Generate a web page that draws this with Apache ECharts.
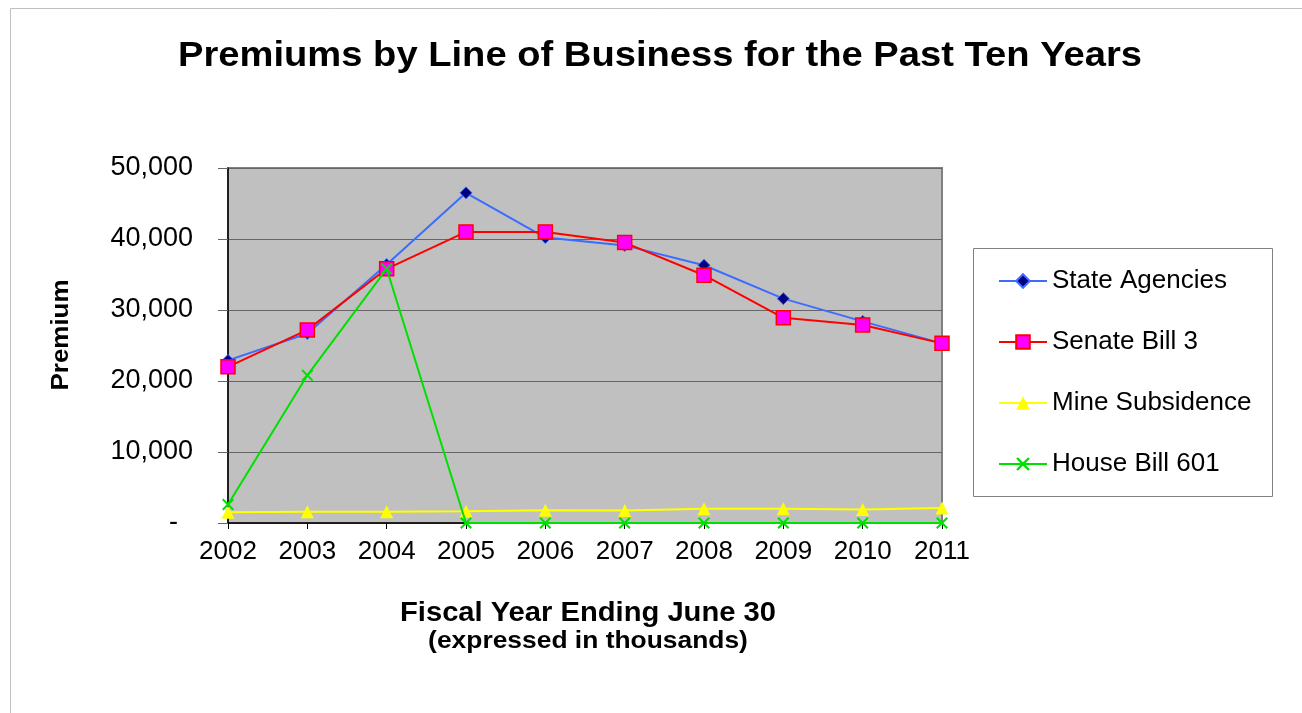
<!DOCTYPE html>
<html>
<head>
<meta charset="utf-8">
<script src="https://cdn.jsdelivr.net/npm/echarts@6/dist/echarts.min.js"></script>
<style>
html,body{margin:0;padding:0;background:#fff;}
#chart{width:1302px;height:713px;}
</style>
</head>
<body>
<div id="chart"></div>
<script>
const years = ['2002','2003','2004','2005','2006','2007','2008','2009','2010','2011'];
const stateAgencies = [22900, 26700, 36400, 46500, 40200, 39100, 36300, 31600, 28400, 25300];
const senateBill3   = [22000, 27200, 35800, 41000, 41000, 39500, 34900, 28900, 27900, 25300];
const mineSubsidence = [1500, 1600, 1600, 1650, 1800, 1750, 2000, 2000, 1900, 2100];
const houseBill601  = [2600, 20800, 35800, 0, 0, 0, 0, 0, 0, 0];
const yTicks = { min: 0, max: 50000, interval: 10000 };

const FONT = '"Liberation Sans", Arial, sans-serif';
const chart = echarts.init(document.getElementById('chart'), null, {renderer:'canvas'});
const xMark = 'path://M0,1.2L1.2,0L5,3.8L8.8,0L10,1.2L6.2,5L10,8.8L8.8,10L5,6.2L1.2,10L0,8.8L3.8,5Z';

function fmt(v){
  if (v === 0) return '-  ';
  return v.toLocaleString('en-US');
}

chart.setOption({
  backgroundColor: '#ffffff',
  animation: false,
  textStyle: { fontFamily: FONT },
  grid: {
    left: 228, top: 168, right: 360, bottom: 190,
    show: true, backgroundColor: '#C0C0C0', borderColor: '#808080', borderWidth: 2
  },
  graphic: [
    { type: 'rect', shape: { x: 10.5, y: 8.5, width: 1400, height: 800 },
      style: { fill: 'none', stroke: '#BFBFBF', lineWidth: 1 }, z: -10 },
    { type: 'text', x: 660, y: 56, scaleX: 1.09, style: { text: 'Premiums by Line of Business for the Past Ten Years',
      font: 'bold 35px ' + FONT, fill: '#000', textAlign: 'center', textVerticalAlign: 'middle' } },
    { type: 'text', x: 61, y: 335, rotation: Math.PI/2, scaleX: 1.08, style: { text: 'Premium',
      font: 'bold 24px ' + FONT, fill: '#000', textAlign: 'center', textVerticalAlign: 'middle' } },
    { type: 'text', x: 588, y: 614, scaleX: 1.08, style: { text: 'Fiscal Year Ending June 30',
      font: 'bold 27px ' + FONT, fill: '#000', textAlign: 'center', textVerticalAlign: 'middle' } },
    { type: 'text', x: 588, y: 641, scaleX: 1.1, style: { text: '(expressed in thousands)',
      font: 'bold 24px ' + FONT, fill: '#000', textAlign: 'center', textVerticalAlign: 'middle' } },
    { type: 'rect', shape: { x: 973.5, y: 248.5, width: 299, height: 248 },
      style: { fill: '#ffffff', stroke: '#808080', lineWidth: 1 }, z: 1 }
  ],
  legend: {
    orient: 'vertical',
    left: 993, top: 263,
    itemWidth: 48, itemHeight: 17,
    itemGap: 35,
    textStyle: { fontFamily: FONT, fontSize: 26, color: '#000' },
    z: 5,
    data: ['State Agencies', 'Senate Bill 3', 'Mine Subsidence', 'House Bill 601']
  },
  xAxis: {
    type: 'category', data: years, boundaryGap: false,
    axisLine: { lineStyle: { color: '#000', width: 1.5 } },
    axisTick: { show: true, alignWithLabel: true, length: 6, lineStyle: { color: '#000' } },
    axisLabel: { fontSize: 26, color: '#000', margin: 16, fontFamily: FONT },
    splitLine: { show: false }
  },
  yAxis: {
    type: 'value', min: yTicks.min, max: yTicks.max, interval: yTicks.interval,
    axisLine: { show: true, lineStyle: { color: '#000', width: 1.5 } },
    axisTick: { show: true, length: 10, lineStyle: { color: '#666' } },
    axisLabel: { fontSize: 27, color: '#000', margin: 35, fontFamily: FONT, formatter: fmt },
    splitLine: { show: true, lineStyle: { color: '#666666', width: 1.2 } }
  },
  series: [
    { name: 'State Agencies', type: 'line', data: stateAgencies,
      symbol: 'diamond', symbolSize: 12,
      lineStyle: { color: '#3C6CFF', width: 2 },
      itemStyle: { color: '#000080', borderColor: '#3C6CFF', borderWidth: 1 }, z: 3 },
    { name: 'Senate Bill 3', type: 'line', data: senateBill3,
      symbol: 'rect', symbolSize: 14,
      lineStyle: { color: '#FF0000', width: 2 },
      itemStyle: { color: '#FF00FF', borderColor: '#FF0000', borderWidth: 1.5 }, z: 4 },
    { name: 'Mine Subsidence', type: 'line', data: mineSubsidence,
      symbol: 'triangle', symbolSize: 13,
      lineStyle: { color: '#FFFF00', width: 2 },
      itemStyle: { color: '#FFFF00', borderColor: '#FFFF00', borderWidth: 0 }, z: 2 },
    { name: 'House Bill 601', type: 'line', data: houseBill601,
      symbol: xMark, symbolSize: 12,
      lineStyle: { color: '#00E000', width: 2 },
      itemStyle: { color: '#00E000', borderWidth: 0 }, z: 5 }
  ]
});
</script>
</body>
</html>
